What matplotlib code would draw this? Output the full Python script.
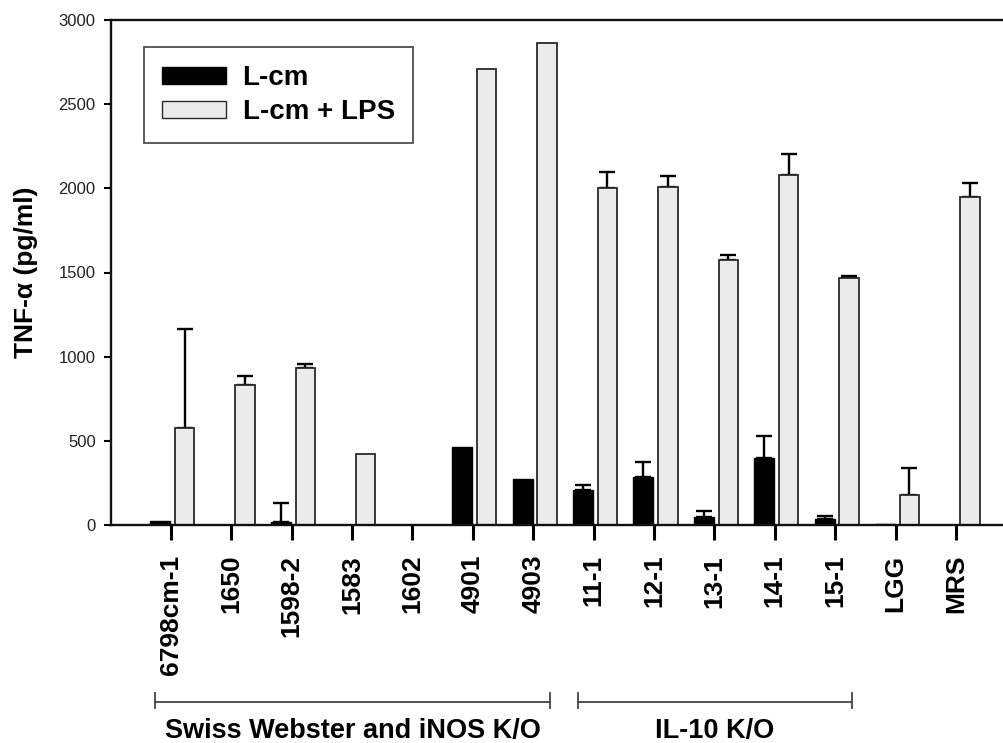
import numpy as np
import matplotlib
matplotlib.use("Agg")
import matplotlib.pyplot as plt
import matplotlib.transforms as mtransforms
from matplotlib.patches import Patch
from matplotlib.lines import Line2D

plt.rcParams['font.family'] = ['Liberation Sans', 'DejaVu Sans']

categories = ["6798cm-1", "1650", "1598-2", "1583", "1602", "4901", "4903",
              "11-1", "12-1", "13-1", "14-1", "15-1", "LGG", "MRS"]
lcm = [25, 0, 20, 0, 0, 461, 271, 210, 283, 48, 398, 36, 8, 0]
lcm_err = [None, None, 110, None, None, None, None, 28, 91, 37, 129, 19, None, None]
lps = [574, 832, 934, 424, 0, 2707, 2861, 2001, 2010, 1574, 2077, 1467, 178, 1946]
lps_err = [592, 55, 22, None, None, None, None, 96, 61, 28, 125, 14, 162, 85]
yticks = [0, 500, 1000, 1500, 2000, 2500, 3000]
groups = ["Swiss Webster and iNOS K/O", "IL-10 K/O"]
group_spans = [(0, 6), (7, 11)]

W, H = 1004, 743
fig = plt.figure(figsize=(W / 100, H / 100), dpi=100)
ax = fig.add_axes([111 / W, (H - 525) / H, (1010 - 111) / W, (525 - 20) / H])

x = np.arange(len(categories))
ax.bar(x - 0.34, lcm, width=0.33, align='edge', color='black',
       edgecolor='black', linewidth=1.0, zorder=2)
ax.bar(x + 0.07, lps, width=0.32, align='edge', color='#ebebeb',
       edgecolor='#2a2a2a', linewidth=1.3, zorder=2)

def draw_err(xc, vals, errs):
    idx = [i for i, e in enumerate(errs) if e is not None]
    xs = [xc[i] for i in idx]
    ys = [vals[i] for i in idx]
    es = [errs[i] for i in idx]
    ax.errorbar(xs, ys, yerr=[np.zeros(len(es)), es], fmt='none',
                ecolor='black', elinewidth=1.7, capsize=5.5, capthick=1.7,
                zorder=1)

draw_err(x - 0.175, lcm, lcm_err)
draw_err(x + 0.23, lps, lps_err)

ax.set_ylim(0, 3000)
ax.set_xlim(-0.988, 13.894)
ax.set_yticks(yticks)
ax.set_yticklabels([str(v) for v in yticks], fontsize=12, color='#222222')
ax.set_xticks(x)
ax.set_xticklabels(categories, rotation=90, fontsize=19, fontweight='bold',
                   va='top', ha='center')
ax.tick_params(axis='y', direction='out', length=5, width=1.5, pad=6)
ax.tick_params(axis='x', direction='out', length=10.5, width=2.2, pad=11)
for s in ['left', 'bottom', 'top', 'right']:
    ax.spines[s].set_linewidth(1.7)
    ax.spines[s].set_color('#111111')

ax.set_ylabel("TNF-α (pg/ml)", fontsize=19, fontweight='bold')
ax.yaxis.set_label_coords((38 - 111) / (1010 - 111), 0.5)

handles = [Patch(facecolor='black', edgecolor='black', label='L-cm'),
           Patch(facecolor='#ebebeb', edgecolor='#2a2a2a', label='L-cm + LPS')]
leg = fig.legend(handles=handles, loc='upper left',
                 bbox_to_anchor=(144 / W, 1 - 47 / H),
                 prop={'size': 20, 'weight': 'bold'}, frameon=True,
                 fancybox=False, edgecolor='#222222', handlelength=2.3,
                 handleheight=0.55, labelspacing=0.3, borderpad=0.65,
                 handletextpad=0.6, borderaxespad=0)
leg.get_frame().set_linewidth(1.3)

trans = mtransforms.blended_transform_factory(ax.transData, fig.transFigure)
y_line = 1 - 702 / H
y_c0, y_c1 = 1 - 693 / H, 1 - 708 / H
for (a, b), name in zip(group_spans, groups):
    x0, x1 = a - 0.26, b + 0.28
    for xa, xb, ya, yb in [(x0, x1, y_line, y_line), (x0, x0, y_c0, y_c1),
                           (x1, x1, y_c0, y_c1)]:
        fig.add_artist(Line2D([xa, xb], [ya, yb], transform=trans,
                              color='#444444', linewidth=1.3))
    fig.text((x0 + x1) / 2, 1 - 738 / H, name, transform=trans, ha='center',
             va='baseline', fontsize=19.5, fontweight='bold')

fig.savefig("out.png", dpi=100)
